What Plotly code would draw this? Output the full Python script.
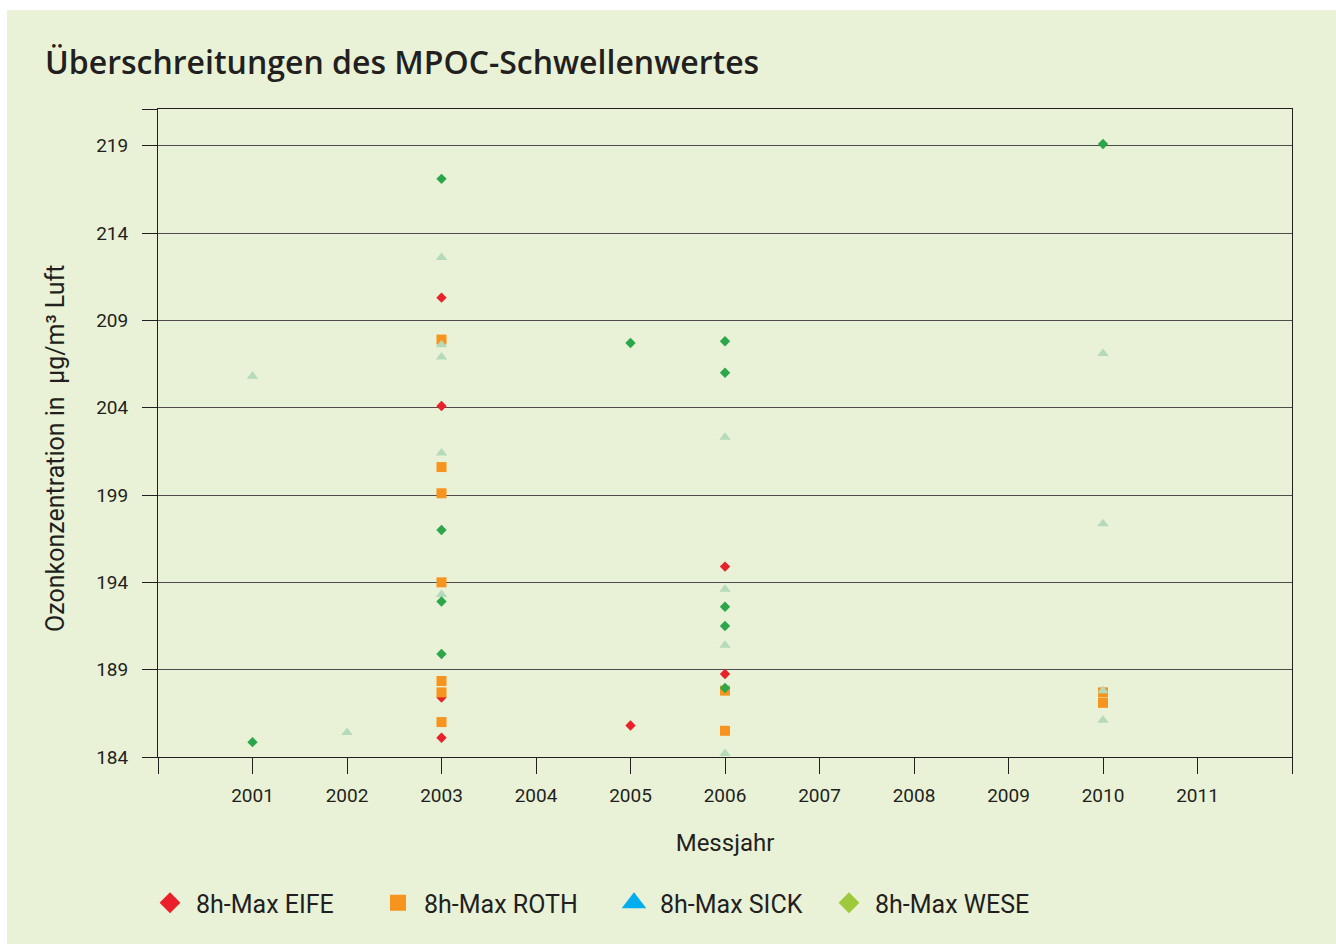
import plotly.graph_objects as go

# Messjahre und Ozon-Tageswerte (8h-Max, µg/m³) je Station
eife_years = [2003, 2003, 2003, 2003, 2005, 2006, 2006]
eife_vals = [210.3, 204.1, 187.4, 185.1, 185.8, 194.9, 188.75]

roth_years = [2003, 2003, 2003, 2003, 2003, 2003, 2003, 2006, 2006, 2010, 2010]
roth_vals = [207.9, 200.6, 199.1, 194.0, 188.35, 187.7, 186.0, 187.8, 185.5, 187.7, 187.1]

sick_years = [2001, 2002, 2003, 2003, 2003, 2003, 2003, 2006, 2006, 2006, 2006,
              2010, 2010, 2010, 2010]
sick_vals = [205.8, 185.4, 212.6, 207.6, 206.9, 201.4, 193.3, 202.3, 193.6, 190.4, 184.2,
             207.1, 197.35, 187.8, 186.1]

wese_years = [2001, 2003, 2003, 2003, 2003, 2005, 2006, 2006, 2006, 2006, 2006, 2010]
wese_vals = [184.85, 217.1, 197.0, 192.9, 189.9, 207.7, 207.8, 206.0, 192.6, 191.5, 187.95, 219.1]

series_names = ["8h-Max EIFE", "8h-Max ROTH", "8h-Max SICK", "8h-Max WESE"]

y_ticks = [184, 189, 194, 199, 204, 209, 214, 219]
x_ticks = list(range(2000, 2013))
x_ticktext = [""] + [str(y) for y in range(2001, 2012)] + [""]

Y_MAX = 221.1

BG = "#e9f2d6"
INK = "#231f20"
FONT = "Roboto"

fig = go.Figure()

# Messpunkte (Druckfarben im Diagramm)
point_styles = [
    (eife_years, eife_vals, "diamond", "#e8212b", 8),
    (roth_years, roth_vals, "square", "#f7941d", 10),
    (sick_years, sick_vals, "triangle-up", "#b5d9bb", 10),
    (wese_years, wese_vals, "diamond", "#2ba64b", 8),
]
for (xs, ys, sym, col, size), name in zip(point_styles, series_names):
    fig.add_trace(go.Scatter(
        x=xs, y=ys, mode="markers", name=name, showlegend=False,
        marker=dict(symbol=sym, color=col, size=size, line=dict(width=0)),
    ))

# Legendeneinträge, jeder in einer eigenen Legende
legend_styles = [
    ("diamond", "#ea1f2a", 0),
    ("square", "#f7941d", 0),
    ("triangle-up", "#00aeef", 3),
    ("diamond", "#9dc93b", 0),
]
legend_ids = ["legend", "legend2", "legend3", "legend4"]
for (sym, col, lw), name, lid in zip(legend_styles, series_names, legend_ids):
    fig.add_trace(go.Scatter(
        x=[None], y=[None], mode="markers", name=name, legend=lid,
        marker=dict(symbol=sym, color=col, size=16, line=dict(width=lw, color=col)),
    ))

L, R, T, B = 158, 44, 109, 187
W, H = 1336, 944
pw, ph = W - L - R, H - T - B

def px_x(p):
    return (p - L) / pw

def px_y(p):
    return (H - B - p) / ph

# hellgrüner Hintergrundkasten
fig.add_shape(type="rect", xref="paper", yref="paper", layer="below",
              x0=px_x(7), x1=px_x(W + 5), y0=px_y(H + 5), y1=px_y(10),
              fillcolor=BG, line=dict(width=0))

# Beschriftung der y-Achse
fig.add_annotation(
    text="Ozonkonzentration in  μg/m³ Luft",
    textangle=-90, showarrow=False,
    xref="paper", yref="paper",
    x=px_x(55), y=px_y(449), xanchor="center", yanchor="middle",
    font=dict(size=25, color=INK),
)

legend_common = dict(
    orientation="h", yanchor="middle", y=px_y(903), xanchor="left",
    bgcolor="rgba(0,0,0,0)", font=dict(size=25, color=INK), itemwidth=42,
)

fig.update_layout(
    width=W, height=H,
    margin=dict(l=L, r=R, t=T, b=B, pad=0),
    paper_bgcolor="white",
    plot_bgcolor="white",
    font=dict(family=FONT, color=INK, size=19),
    title=dict(
        text="Überschreitungen des MPOC-Schwellenwertes",
        font=dict(family="Open Sans", size=32, color=INK, weight=600),
        x=45 / W, xref="container", xanchor="left",
        y=1 - 63 / H, yref="container", yanchor="middle",
    ),
    xaxis=dict(
        range=[2000, 2012],
        tickvals=x_ticks, ticktext=x_ticktext,
        ticks="outside", ticklen=16, tickcolor=INK, tickwidth=1,
        showline=True, linecolor=INK, linewidth=1, mirror=True,
        showgrid=False, zeroline=False,
        tickfont=dict(size=19, color=INK),
        ticklabelstandoff=5,
        title=dict(text="Messjahr", font=dict(size=24, color=INK), standoff=28),
    ),
    yaxis=dict(
        range=[184, Y_MAX],
        tickvals=y_ticks + [Y_MAX], ticktext=[str(v) for v in y_ticks] + [""],
        ticks="outside", ticklen=15, tickcolor=INK, tickwidth=1,
        showline=True, linecolor=INK, linewidth=1, mirror=True,
        showgrid=True, gridcolor="#4d4d4d", gridwidth=1,
        zeroline=False,
        tickfont=dict(size=19, color=INK),
        ticklabelstandoff=10,
    ),
    legend=dict(legend_common, x=px_x(144)),
    legend2=dict(legend_common, x=px_x(372)),
    legend3=dict(legend_common, x=px_x(608)),
    legend4=dict(legend_common, x=px_x(823)),
)

fig.write_html("out.html")
